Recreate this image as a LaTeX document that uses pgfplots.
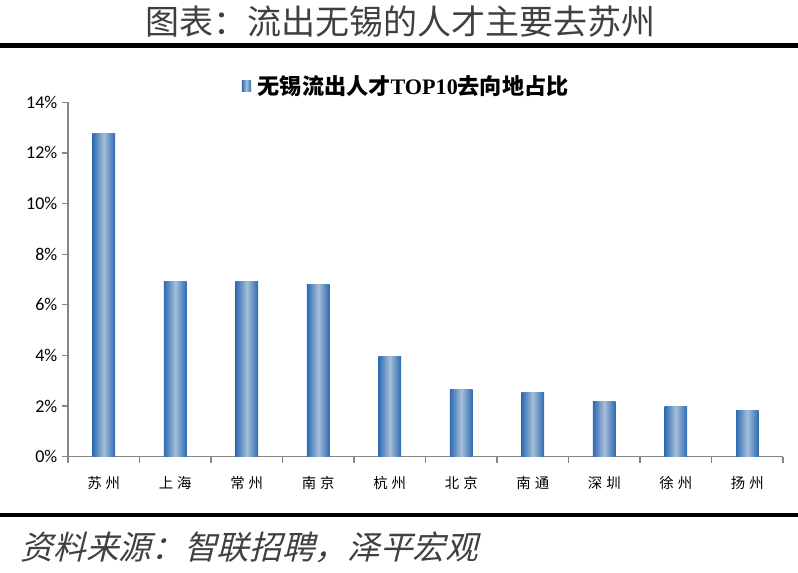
\documentclass[border=0pt]{standalone}
\usepackage{pgfplots}
\pgfplotsset{compat=1.18}
\usepackage{fontspec}
\setmainfont{Carlito}
\newfontfamily\cjk{Noto Sans CJK SC}
\newfontfamily\cjks{Noto Sans CJK SC}[FakeSlant=0.25]
\newfontfamily\tnr{Liberation Serif}
\definecolor{barD}{HTML}{2E6BB3}
\definecolor{barL}{HTML}{A6BED8}
\definecolor{axgray}{HTML}{868686}
\newcommand\lab[2]{{\cjk #1\hspace{3pt}#2}}
\pgfplotsset{mybar/.style={ybar, bar width=16.9pt, bar shift=0pt, draw=none, left color=barD, right color=barD, middle color=barL, forget plot}}
\begin{document}
\begin{tikzpicture}[x=0.75pt,y=0.75pt]
\useasboundingbox (0,0) rectangle (798,572);
\fill[white] (0,0) rectangle (798,572);
\node[font=\cjk\fontsize{25.5}{28}\selectfont, text=black!75] at (400,550) {图表：流出无锡的人才主要去苏州};
\fill[black] (0,524) rectangle (798,529);
\fill[black] (0,54.7) rectangle (798,59.3);
\node[anchor=west, font=\cjks\fontsize{24.5}{27}\selectfont, text=black!75] at (16,25) {资料来源：智联招聘，泽平宏观};
\coordinate (O) at (68,115.3);
\begin{axis}[
  at={(O)}, anchor=south west,
  scale only axis, width=536.25pt, height=265.8pt,
  xmin=-0.5, xmax=9.5, ymin=0, ymax=14,
  axis x line*=bottom, axis y line*=left,
  axis line style={draw=axgray, line width=0.9pt},
  tick style={draw=axgray, line width=0.9pt},
  tick align=outside,
  major tick length=4.5pt,
  ytick={0,2,...,14},
  yticklabel={\pgfmathprintnumber{\tick}\%},
  /pgf/number format/assume math mode=true,
  yticklabel style={font=\fontsize{13.5}{15}\selectfont, text=black},
  xtick={-0.5,0.5,1.5,2.5,3.5,4.5,5.5,6.5,7.5,8.5,9.5},
  xticklabels={},
  extra x ticks={0,1,2,3,4,5,6,7,8,9},
  extra x tick labels={\lab{苏}{州},\lab{上}{海},\lab{常}{州},\lab{南}{京},\lab{杭}{州},\lab{北}{京},\lab{南}{通},\lab{深}{圳},\lab{徐}{州},\lab{扬}{州}},
  extra x tick style={major tick length=0pt, tick label style={font=\cjk\fontsize{10.8}{12}\selectfont, text=black, yshift=-11pt}},
  legend style={at={(0.4734,1.046)}, anchor=center, draw=none, fill=none,
    font=\fontsize{16.6}{18}\selectfont, inner sep=0pt},
  legend image code/.code={\path[left color=barD,right color=barD,middle color=barL] (0pt,-4pt) rectangle (7pt,4pt); \path (0pt,0pt) -- (10pt,0pt);},
]
\addplot[mybar] coordinates {(0,12.78)};
\addplot[mybar] coordinates {(1,6.93)};
\addplot[mybar] coordinates {(2,6.91)};
\addplot[mybar] coordinates {(3,6.82)};
\addplot[mybar] coordinates {(4,3.94)};
\addplot[mybar] coordinates {(5,2.64)};
\addplot[mybar] coordinates {(6,2.53)};
\addplot[mybar] coordinates {(7,2.19)};
\addplot[mybar] coordinates {(8,2.00)};
\addplot[mybar] coordinates {(9,1.82)};
\addlegendimage{draw=none}
\addlegendentry{{\cjk\bfseries 无锡流出人才}{\tnr\bfseries TOP10}{\cjk\bfseries 去向地占比}}
\end{axis}
\end{tikzpicture}
\end{document}
